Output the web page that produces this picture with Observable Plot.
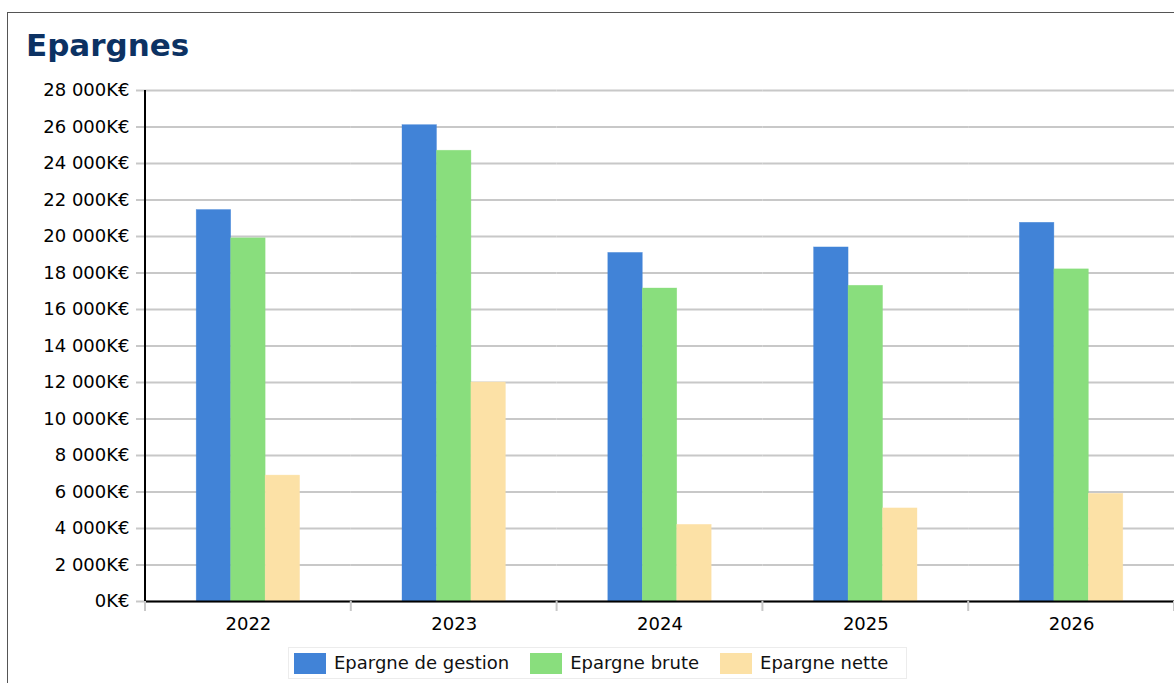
<!DOCTYPE html>
<html>
<head>
<meta charset="utf-8">
<script src="https://cdn.jsdelivr.net/npm/d3@7"></script>
<script src="https://cdn.jsdelivr.net/npm/@observablehq/plot@0.6"></script>
<style>
  html, body { margin: 0; padding: 0; background: #fff; overflow: hidden; width: 1174px; height: 683px; }
  body { position: relative; font-family: "DejaVu Sans", sans-serif; }
  #frame { position: absolute; left: 7px; top: 12px; width: 1200px; height: 700px; border-left: 1px solid #555; border-top: 1px solid #555; }
  #title { position: absolute; left: 26px; top: 30px; font: bold 31px/30px "DejaVu Sans", sans-serif; color: #0c3263; margin: 0; }
  #chart { position: absolute; left: 0; top: 70px; }
  #legend { position: absolute; left: 288px; top: 647px; height: 32px; box-sizing: border-box; width: 619px;
            border: 1px solid #ececec; display: flex; align-items: center; padding-left: 5px;
            font: 18px/18px "DejaVu Sans", sans-serif; color: #111; white-space: nowrap; }
  .item { display: flex; align-items: center; margin-right: 21px; flex-shrink: 0; }
  .sw { width: 32px; height: 21px; margin-right: 8px; flex-shrink: 0; }
</style>
</head>
<body>
<div id="frame"></div>
<h1 id="title">Epargnes</h1>
<div id="chart"></div>
<div id="legend"></div>
<script>
const years = ["2022", "2023", "2024", "2025", "2026"];
const series = ["Epargne de gestion", "Epargne brute", "Epargne nette"];
const gestion = [21450, 26100, 19100, 19400, 20750];
const brute = [19900, 24700, 17150, 17300, 18200];
const nette = [6900, 12000, 4200, 5100, 5900];
const colors = ["#4183d7", "#89de7d", "#fce1a6"];
const yTicks = [0, 2000, 4000, 6000, 8000, 10000, 12000, 14000, 16000, 18000, 20000, 22000, 24000, 26000, 28000];

const values = [gestion, brute, nette];
const data = [];
years.forEach((yr, i) => {
  series.forEach((s, j) => data.push({year: yr, series: s, value: values[j][i]}));
});

const fmt = d => d3.format(",")(d).replace(/,/g, " ") + "K€";

const plot = Plot.plot({
  width: 1174,
  height: 570,
  marginLeft: 145,
  marginRight: 0,
  marginTop: 20,
  marginBottom: 39,
  style: {fontFamily: "DejaVu Sans", fontSize: "18px", color: "#000", background: "transparent", overflow: "visible"},
  fx: {domain: years, padding: 0, round: false, label: null, axis: null},
  x: {domain: series, paddingInner: 0, paddingOuter: 1.486, round: false, axis: null},
  y: {domain: [0, 28000], label: null, axis: null},
  color: {domain: series, range: colors},
  marks: [
    Plot.gridY(yTicks, {stroke: "#c8c8c8", strokeOpacity: 1, strokeWidth: 2}),
    Plot.axisY(yTicks, {tickSize: 9, tickPadding: 7, stroke: "#c8c8c8", strokeWidth: 2, fill: "#000", tickFormat: fmt, label: null}),
    Plot.barY(data, {fx: "year", x: "series", y: "value", fill: "series", stroke: "series", strokeOpacity: 0.6, strokeWidth: 0.6}),
    Plot.ruleY([0], {stroke: "#000", strokeWidth: 2}),
    Plot.axisFx({anchor: "bottom", tickSize: 0, tickPadding: 16, label: null, fill: "#000"})
  ]
});
document.getElementById("chart").appendChild(plot);

// y-axis line and band-boundary ticks, positioned with Plot's own scales
const fx = plot.scale("fx");
const y = plot.scale("y");
const svg = d3.select(plot);
const y0 = y.apply(0), yTop = y.apply(28000);
const x0 = fx.apply(years[0]);
const bounds = years.map(v => fx.apply(v)).concat([fx.apply(years[years.length - 1]) + fx.bandwidth]);
svg.append("g").selectAll("line").data(bounds).join("line")
  .attr("x1", d => d).attr("x2", d => d)
  .attr("y1", y0).attr("y2", y0 + 10)
  .attr("stroke", "#c8c8c8").attr("stroke-width", 2);
svg.append("line")
  .attr("x1", x0).attr("x2", x0).attr("y1", yTop).attr("y2", y0)
  .attr("stroke", "#000").attr("stroke-width", 2);

// legend
const legend = d3.select("#legend");
series.forEach((s, i) => {
  const it = legend.append("div").attr("class", "item");
  it.append("div").attr("class", "sw").style("background", colors[i]);
  it.append("span").text(s);
});
</script>
</body>
</html>
